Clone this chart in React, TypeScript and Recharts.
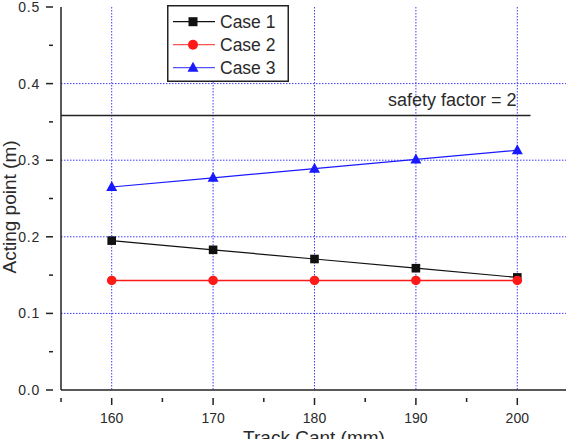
import React from 'react';
import { LineChart, Line, XAxis, YAxis, CartesianGrid, ReferenceLine } from 'recharts';

// Track cant (mm) on the x axis
const cants = [160, 170, 180, 190, 200];
// Acting point (m) for each load case
const case1 = [0.195, 0.183, 0.171, 0.159, 0.147];
const case2 = [0.143, 0.143, 0.143, 0.143, 0.143];
const case3 = [0.265, 0.277, 0.289, 0.301, 0.313];
const safetyLimit = 0.3585;

const xTicks = [155, 160, 165, 170, 175, 180, 185, 190, 195, 200, 205];
const xMajor = [160, 170, 180, 190, 200];
const yTicks = [0, 0.05, 0.1, 0.15, 0.2, 0.25, 0.3, 0.35, 0.4, 0.45, 0.5];
const yMajor = [0, 0.1, 0.2, 0.3, 0.4, 0.5];

const data = cants.map((c, i) => ({ cant: c, c1: case1[i], c2: case2[i], c3: case3[i] }));

const FONT = '"Liberation Sans", Arial, sans-serif';
const GRID = '#3c3cff';
const C1 = '#111111';
const C2 = '#ff1a1a';
const C3 = '#1a1aff';
const TEXT = '#2a2a2a';

const isMajor = (v: number, arr: number[]) => arr.some((m) => Math.abs(m - v) < 1e-6);

const XTick = (props: any) => {
  const { x, y, payload } = props;
  const major = isMajor(payload.value, xMajor);
  const len = major ? 7 : 4;
  return (
    <g>
      <line x1={x} x2={x} y1={y} y2={y + len} stroke="#222" strokeWidth={1.5} />
      {major && (
        <text x={x} y={y + 25} textAnchor="middle" fontFamily={FONT} fontSize={14} fill={TEXT}>
          {payload.value}
        </text>
      )}
    </g>
  );
};

const YTick = (props: any) => {
  const { x, y, payload } = props;
  const major = isMajor(payload.value, yMajor);
  const len = major ? 7 : 4;
  return (
    <g>
      <line x1={x - len} x2={x} y1={y} y2={y} stroke="#222" strokeWidth={1.5} />
      {major && (
        <text x={x - 13} y={y + 5} textAnchor="end" fontFamily={FONT} fontSize={14} letterSpacing={0.8} fill={TEXT}>
          {payload.value.toFixed(1)}
        </text>
      )}
    </g>
  );
};

const Square = (props: any) => {
  const { cx, cy } = props;
  return <rect x={cx - 4.3} y={cy - 4.3} width={8.6} height={8.6} fill={C1} />;
};
const Circle = (props: any) => {
  const { cx, cy } = props;
  return <circle cx={cx} cy={cy} r={4.8} fill={C2} />;
};
const Triangle = (props: any) => {
  const { cx, cy } = props;
  return <polygon points={`${cx},${cy - 6} ${cx - 5.5},${cy + 4} ${cx + 5.5},${cy + 4}`} fill={C3} />;
};

const legendItems = [
  { name: 'Case 1', color: C1, marker: 'square' },
  { name: 'Case 2', color: C2, marker: 'circle' },
  { name: 'Case 3', color: C3, marker: 'triangle' },
];

const LegendBox = () => (
  <svg width={122} height={77} style={{ display: 'block' }}>
    <rect x={0.75} y={0.75} width={120.5} height={75.5} fill="#fff" stroke="#222" strokeWidth={1.5} />
    {legendItems.map((it, i) => {
      const cy = 16.7 + i * 23;
      const cx = 26;
      return (
        <g key={it.name}>
          <line x1={6} x2={48} y1={cy} y2={cy} stroke={it.color} strokeWidth={1.2} opacity={i === 0 ? 1 : 0.75} />
          {it.marker === 'square' && <rect x={cx - 4.5} y={cy - 4.5} width={9} height={9} fill={it.color} />}
          {it.marker === 'circle' && <circle cx={cx} cy={cy} r={5} fill={it.color} />}
          {it.marker === 'triangle' && (
            <polygon points={`${cx},${cy - 6} ${cx - 5.5},${cy + 4} ${cx + 5.5},${cy + 4}`} fill={it.color} />
          )}
          <text x={53} y={cy + 6} fontFamily={FONT} fontSize={17.5} fill={TEXT}>
            {it.name}
          </text>
        </g>
      );
    })}
  </svg>
);

const SafetyLabel = (props: any) => {
  const vb = props.viewBox || {};
  return (
    <text x={(vb.x || 0) + (vb.width || 0) - 14} y={(vb.y || 0) - 9} textAnchor="end" fontFamily={FONT} fontSize={18} fill={TEXT}>
      safety factor = 2
    </text>
  );
};

const YLabel = () => (
  <text x={16} y={207} transform="rotate(-90 16 207)" textAnchor="middle" fontFamily={FONT} fontSize={19} fill={TEXT}>
    Acting point (m)
  </text>
);

const XLabel = () => (
  <text x={314} y={443.6} textAnchor="middle" fontFamily={FONT} fontSize={19} fill={TEXT}>
    Track Cant (mm)
  </text>
);

export default function App() {
  return (
    <div style={{ position: 'fixed', left: 0, top: 0, width: 566, height: 439, overflow: 'hidden', background: '#fff' }}>
      <LineChart width={580} height={439} data={data} margin={{ top: 7, right: 12, bottom: 0, left: 0 }}>
        <CartesianGrid
          stroke={GRID}
          strokeDasharray="1.5 1.5"
          horizontalValues={[0.1, 0.2, 0.3, 0.4]}
          verticalValues={xMajor}
        />
        <XAxis
          dataKey="cant"
          type="number"
          domain={[155, 205]}
          ticks={xTicks}
          interval={0}
          height={49}
          axisLine={{ stroke: '#222', strokeWidth: 1.5 }}
          tickLine={false}
          tick={<XTick />}
          label={<XLabel />}
        />
        <YAxis
          type="number"
          domain={[0, 0.5]}
          ticks={yTicks}
          interval={0}
          width={61}
          axisLine={{ stroke: '#222', strokeWidth: 1.5 }}
          tickLine={false}
          tick={<YTick />}
          label={<YLabel />}
        />
        <ReferenceLine
          segment={[{ x: 155, y: safetyLimit }, { x: 201.3, y: safetyLimit }]}
          stroke="#222"
          strokeWidth={1.5}
          label={<SafetyLabel />}
        />
        <Line dataKey="c1" name="Case 1" stroke={C1} strokeWidth={1.2} dot={<Square />} isAnimationActive={false} />
        <Line dataKey="c2" name="Case 2" stroke={C2} strokeWidth={1.5} dot={<Circle />} isAnimationActive={false} />
        <Line dataKey="c3" name="Case 3" stroke={C3} strokeWidth={1.2} dot={<Triangle />} isAnimationActive={false} />
      </LineChart>
      <div style={{ position: 'absolute', left: 167, top: 5 }}>
        <LegendBox />
      </div>
    </div>
  );
}
